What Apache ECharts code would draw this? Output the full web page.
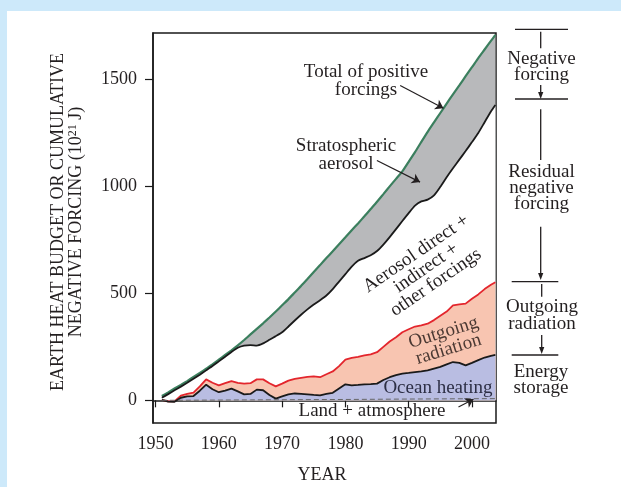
<!DOCTYPE html>
<html>
<head>
<meta charset="utf-8">
<script src="https://cdn.jsdelivr.net/npm/echarts@6/dist/echarts.min.js"></script>
<style>
  html, body { margin: 0; padding: 0; width: 621px; height: 487px; background: #cde9fa; overflow: hidden; }
  #panel { position: absolute; left: 7px; top: 11px; right: 0; bottom: 0; background: #ffffff; }
  #chart { position: absolute; left: 0; top: 0; width: 621px; height: 487px; }
</style>
</head>
<body>
<div id="panel"></div>
<div id="chart"></div>
<script>
// ---------------- data ----------------
const years = [1951,1952,1953,1954,1955,1956,1957,1958,1959,1960,
               1961,1962,1963,1964,1965,1966,1967,1968,1969,1970,
               1971,1972,1973,1974,1975,1976,1977,1978,1979,1980,
               1981,1982,1983,1984,1985,1986,1987,1988,1989,1990,
               1991,1992,1993,1994,1995,1996,1997,1998,1999,2000,
               2001,2002,2003,2003.7];
// Total of positive forcings (green line)
const totalPositive = [20,37,55,72,90,109,128,148,168,190,
                       212,234,257,282,308,334,360,387,415,444,
                       473,504,535,567,600,632,665,697,730,762,
                       795,827,860,894,928,964,1000,1035,1070,1115,
                       1160,1208,1255,1299,1343,1387,1430,1472,1515,1557,
                       1600,1640,1680,1708];
// Total minus stratospheric aerosol (upper black line)
const afterStratAerosol = [12,29,47,64,82,101,120,140,160,182,
                           204,226,246,256,258,256,266,283,300,318,
                           345,373,400,425,448,468,490,520,555,590,
                           625,652,665,678,698,728,763,800,838,875,
                           910,930,938,958,998,1043,1085,1125,1165,1207,
                           1250,1300,1350,1380];
// Outgoing radiation + storage (red line)
const outgoingRadiation = [2,-5,-5,22,30,36,65,98,82,70,
                           80,90,82,78,80,98,98,80,65,78,
                           92,100,105,110,112,108,122,135,160,190,
                           198,203,210,215,225,250,275,295,318,332,
                           345,350,358,375,395,415,444,448,452,475,
                           495,520,540,552];
// Ocean heating + land/atmosphere (lower black line)
const oceanHeating = [2,-6,-7,12,18,20,45,73,52,38,
                      45,55,42,28,30,50,47,25,8,18,
                      28,32,30,28,25,23,30,35,55,75,
                      70,72,75,76,78,95,108,118,125,128,
                      132,135,140,148,156,168,179,175,163,175,
                      188,200,208,212];
// Land + atmosphere (dashed line)
const landYears = [1951, 1965, 1980, 1990, 2003.7];
const landAtmosphere = [0, 2, 4, 6, 8];

const xTicks = [1950, 1960, 1970, 1980, 1990, 2000];
const yTicks = [0, 500, 1000, 1500];

// annotation arrows in data coordinates [fromYear, fromValue, toYear, toValue]
const arrows = [
  [1988.66, 1472, 1995.5, 1365],
  [1984.98, 1121, 1991.8, 1020],
  [1997.87, -31, 2000.24, 5]
];

// ---------------- chart ----------------
const FONT = 'Liberation Serif';
const INK = '#231f20';
const pair = (xs, ys) => xs.map((x, i) => [x, ys[i]]);

const chart = echarts.init(document.getElementById('chart'), null, { renderer: 'canvas' });

function hline(x1, x2, y) {
  return { type: 'line', shape: { x1: x1, y1: y, x2: x2, y2: y }, style: { stroke: INK, lineWidth: 1.3 }, silent: true };
}
function vline(x, y1, y2) {
  return { type: 'line', shape: { x1: x, y1: y1, x2: x, y2: y2 }, style: { stroke: INK, lineWidth: 1.3 }, silent: true };
}
function arrowDown(x, y1, y2) {
  return [
    vline(x, y1, y2 - 5),
    { type: 'polygon', shape: { points: [[x - 2.6, y2 - 7], [x + 2.6, y2 - 7], [x, y2]] }, style: { fill: INK }, silent: true }
  ];
}
function label(text, x, y, opts) {
  opts = opts || {};
  return {
    type: 'text', x: x, y: y, rotation: opts.rotation || 0, silent: true,
    style: {
      text: text, align: 'center', verticalAlign: 'middle',
      fontFamily: FONT, fontSize: opts.fontSize || 19, lineHeight: opts.lineHeight || 18,
      fill: opts.color || INK
    },
    z: 100
  };
}

const graphics = [
  // y axis name
  {
    type: 'text', x: 67, y: 222, rotation: Math.PI / 2, silent: true,
    style: {
      text: '{a|EARTH HEAT BUDGET OR CUMULATIVE}\n{a|NEGATIVE FORCING (10}{s|21}{a| J)}',
      align: 'center', verticalAlign: 'middle',
      rich: {
        a: { fontFamily: FONT, fontSize: 18, lineHeight: 18, fill: INK, color: INK },
        s: { fontFamily: FONT, fontSize: 12, lineHeight: 18, verticalAlign: 'top', fill: INK, color: INK }
      }
    }
  },
  // x axis name
  label('YEAR', 322, 475, { fontSize: 18 }),
  // in-plot labels
  label('Total of positive\nforcings', 366, 81, { lineHeight: 18.3 }),
  label('Stratospheric\naerosol', 346, 155, { lineHeight: 18.3 }),
  label('Aerosol direct +\nindirect +\nother forcings', 426, 268, { rotation: 34.5 * Math.PI / 180, lineHeight: 17.5 }),
  label('Outgoing\nradiation', 446, 341, { rotation: 17 * Math.PI / 180, lineHeight: 17.5, color: '#4b3933' }),
  label('Ocean heating', 438, 388, { color: '#2d2f45' }),
  label('Land + atmosphere', 372, 411.5),
  // right-hand budget column
  hline(515, 568, 29.3),
  vline(540.7, 31.7, 48.3),
  label('Negative\nforcing', 541.5, 67, { lineHeight: 16 }),
  ...arrowDown(540.7, 85, 99),
  hline(515, 568, 99),
  vline(540.7, 109.3, 160),
  label('Residual\nnegative\nforcing', 541.5, 188, { lineHeight: 16 }),
  ...arrowDown(540.7, 226.7, 280),
  hline(511.7, 558.3, 281.7),
  vline(541.7, 284, 296.7),
  label('Outgoing\nradiation', 542, 316, { lineHeight: 17 }),
  ...arrowDown(541.7, 335, 354),
  hline(511.7, 558.3, 355),
  label('Energy\nstorage', 541, 380.5, { lineHeight: 16 })
];

const option = {
  animation: false,
  backgroundColor: 'transparent',
  grid: {
    left: 153, right: 125, top: 33, bottom: 64,
    show: true, borderColor: '#1a1a1a', borderWidth: 1.5, backgroundColor: 'transparent'
  },
  xAxis: {
    type: 'value', min: 1949.6, max: 2003.8,
    axisLine: { show: true, lineStyle: { color: '#1a1a1a', width: 1.5 } },
    axisTick: { show: true, inside: false, length: 7, customValues: xTicks, lineStyle: { color: '#1a1a1a', width: 1.2 } },
    axisLabel: { customValues: xTicks, margin: 12, fontFamily: FONT, fontSize: 18, color: INK, formatter: v => String(v) },
    splitLine: { show: false }
  },
  yAxis: {
    type: 'value', min: -106, max: 1717,
    axisLine: { show: true, lineStyle: { color: '#1a1a1a', width: 1.5 } },
    axisTick: { show: true, inside: false, length: 8, customValues: yTicks, lineStyle: { color: '#1a1a1a', width: 1.2 } },
    axisLabel: { customValues: yTicks, margin: 16, fontFamily: FONT, fontSize: 18, color: INK, formatter: v => String(v) },
    splitLine: { show: false }
  },
  series: [
    {
      name: 'Total of positive forcings', type: 'line', data: pair(years, totalPositive),
      symbol: 'none', smooth: 0.2,
      lineStyle: { color: '#3b7f5e', width: 2.2 },
      areaStyle: { color: '#b8b9bb', opacity: 1 }
    },
    {
      name: 'Stratospheric aerosol', type: 'line', data: pair(years, afterStratAerosol),
      symbol: 'none', smooth: 0.2,
      lineStyle: { color: '#1a1a1a', width: 1.8 },
      areaStyle: { color: '#ffffff', opacity: 1 }
    },
    {
      name: 'Outgoing radiation', type: 'line', data: pair(years, outgoingRadiation),
      symbol: 'none', smooth: false,
      lineStyle: { color: '#e3262d', width: 1.8 },
      areaStyle: { color: '#f8c5b1', opacity: 1 }
    },
    {
      name: 'Ocean heating', type: 'line', data: pair(years, oceanHeating),
      symbol: 'none', smooth: false,
      lineStyle: { color: '#1a1a1a', width: 1.8 },
      areaStyle: { color: '#b9bde2', opacity: 1 }
    },
    {
      name: 'Land + atmosphere', type: 'line', data: pair(landYears, landAtmosphere),
      symbol: 'none',
      lineStyle: { color: '#666666', width: 1, type: [5, 3] }
    },
    {
      name: 'arrows', type: 'line', data: [], symbol: 'none', silent: true,
      markLine: {
        silent: true, symbol: ['none', 'arrow'], symbolSize: 8,
        label: { show: false },
        lineStyle: { color: INK, width: 1.2, type: 'solid' },
        emphasis: { disabled: true },
        data: arrows.map(a => [{ coord: [a[0], a[1]] }, { coord: [a[2], a[3]] }])
      }
    }
  ],
  graphic: graphics
};

chart.setOption(option);
</script>
</body>
</html>
